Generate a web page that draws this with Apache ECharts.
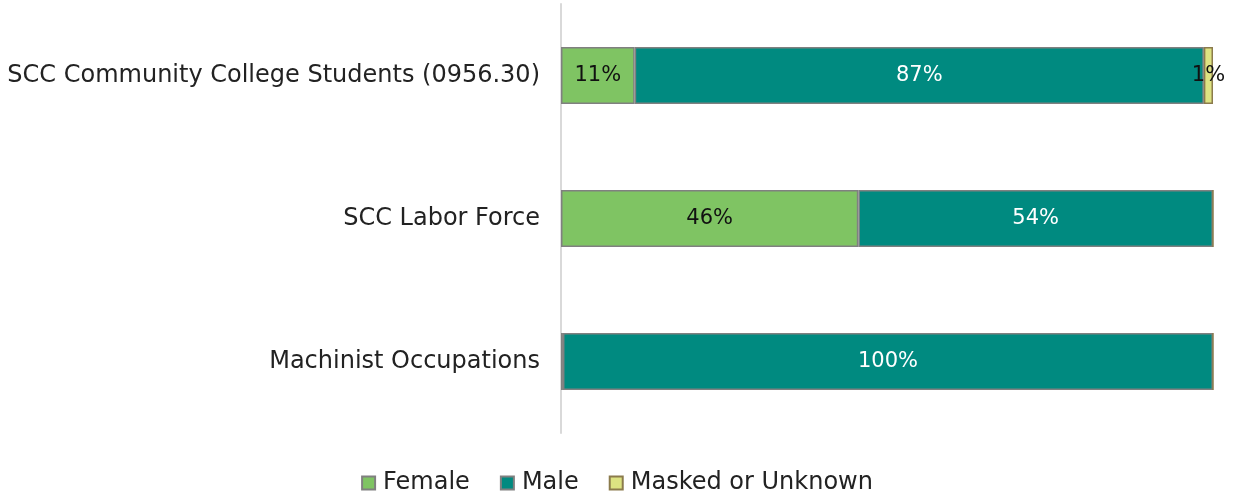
<!DOCTYPE html>
<html>
<head>
<meta charset="utf-8">
<script src="https://cdn.jsdelivr.net/npm/echarts@6/dist/echarts.min.js"></script>
<style>
  html, body { margin: 0; padding: 0; background: #fff; }
  #chart { width: 1234px; height: 500px; }
</style>
</head>
<body>
<div id="chart"></div>
<script>
const categories = ["SCC Community College Students (0956.30)", "SCC Labor Force", "Machinist Occupations"];
const female = [11.3, 45.6, 0.3];
const male = [87.3, 54.4, 99.7];
const unknown = [1.4, 0, 0];

const chart = echarts.init(document.getElementById("chart"));
const font = "'DejaVu Sans', sans-serif";

function pctLabel(color) {
  return {
    show: true,
    position: "inside",
    color: color,
    fontFamily: font,
    fontSize: 21,
    formatter: (p) => (p.value >= 1 ? Math.round(p.value) + "%" : "")
  };
}

const option = {
  animation: false,
  grid: { left: 561, right: 21, top: 4, bottom: 67, containLabel: false },
  legend: {
    bottom: 0,
    left: "center",
    itemWidth: 13,
    itemHeight: 13,
    itemGap: 30,
    icon: "rect",
    textStyle: { fontFamily: font, fontSize: 24, color: "#222", padding: [0, 0, 0, 3] },
    data: ["Female", "Male", "Masked or Unknown"]
  },
  xAxis: {
    type: "value",
    min: 0,
    max: 100,
    show: false
  },
  yAxis: {
    type: "category",
    inverse: true,
    data: categories,
    axisLine: { show: true, lineStyle: { color: "#d9d9d9", width: 2 } },
    axisTick: { show: false },
    axisLabel: { margin: 21, fontFamily: font, fontSize: 24, color: "#222" }
  },
  series: [
    {
      name: "Female", type: "bar", stack: "total", barWidth: "40%",
      data: female,
      itemStyle: { color: "#7fc463", borderColor: "#808080", borderWidth: 1.5 },
      label: pctLabel("#111")
    },
    {
      name: "Male", type: "bar", stack: "total", barWidth: "40%",
      data: male,
      itemStyle: { color: "#008a80", borderColor: "#808080", borderWidth: 1.5 },
      label: pctLabel("#fff")
    },
    {
      name: "Masked or Unknown", type: "bar", stack: "total", barWidth: "40%",
      data: unknown,
      itemStyle: { color: "#dde382", borderColor: "#8b7b4c", borderWidth: 1.5 },
      label: pctLabel("#111")
    }
  ]
};
chart.setOption(option);
window.addEventListener("resize", () => { chart && chart.resize(); });
</script>
</body>
</html>
